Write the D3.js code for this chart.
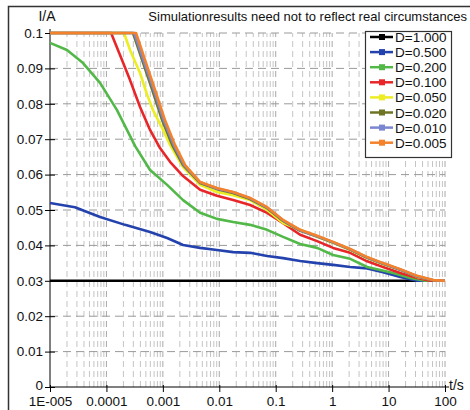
<!DOCTYPE html>
<html>
<head>
<meta charset="utf-8">
<script src="https://cdn.jsdelivr.net/npm/d3@7"></script>
<style>
  body { margin: 0; background: #fff; }
  svg { display: block; font-family: Arial, "Liberation Sans", sans-serif; }
</style>
</head>
<body>
<svg id="chart" width="470" height="410"></svg>
<script>
// time axis (log) and current axis
const xTickValues = [1e-5, 1e-4, 1e-3, 1e-2, 0.1, 1, 10, 100];
const xTickLabels = ["1E-005", "0.0001", "0.001", "0.01", "0.1", "1", "10", "100"];
const yTickValues = [0, 0.01, 0.02, 0.03, 0.04, 0.05, 0.06, 0.07, 0.08, 0.09, 0.1];
const yTickLabels = ["0", "0.01", "0.02", "0.03", "0.04", "0.05", "0.06", "0.07", "0.08", "0.09", "0.1"];

const seriesNames = ["D=1.000", "D=0.500", "D=0.200", "D=0.100", "D=0.050", "D=0.020", "D=0.010", "D=0.005"];
const seriesColors = ["#000000", "#2342ad", "#52b848", "#e8262a", "#eded24", "#6e7424", "#7a86cf", "#f4822c"];

// [t in s, I in A]
const d1000 = [[1e-5, 0.030], [100, 0.030]];
const d0500 = [[1e-5, 0.0520], [2.77e-5, 0.0508], [7.7e-5, 0.0480], [2.14e-4, 0.0458], [5.93e-4, 0.0438],
  [1.19e-3, 0.0421], [2.28e-3, 0.0401], [4.57e-3, 0.0393], [9.1e-3, 0.0387], [0.0176, 0.0381],
  [0.0352, 0.0379], [0.0705, 0.0370], [0.135, 0.0364], [0.271, 0.0356], [0.542, 0.0350],
  [1.04, 0.0345], [2.09, 0.0339], [4.18, 0.0335], [8.0, 0.0324], [16.1, 0.0311], [32.2, 0.0300], [100, 0.0300]];
const d0200 = [[1e-5, 0.0972], [2.0e-5, 0.0952], [3.85e-5, 0.0915], [7.7e-5, 0.0859], [1.54e-4, 0.0782],
  [2.14e-4, 0.0737], [3.21e-4, 0.0681], [5.93e-4, 0.0613], [1.19e-3, 0.0571], [2.28e-3, 0.0528],
  [4.57e-3, 0.0492], [9.1e-3, 0.0475], [0.0176, 0.0466], [0.0352, 0.0458], [0.0705, 0.0444],
  [0.135, 0.0424], [0.271, 0.0404], [0.542, 0.0393], [1.04, 0.0373], [2.09, 0.0362], [4.18, 0.0339],
  [12.1, 0.0322], [24.2, 0.0308], [44.6, 0.0300], [100, 0.0300]];
const d0100 = [[1e-5, 0.1], [1.21e-4, 0.1], [1.74e-4, 0.0938], [2.62e-4, 0.0867], [3.94e-4, 0.0791],
  [5.93e-4, 0.0726], [8.9e-4, 0.0675], [1.34e-3, 0.0636], [2.28e-3, 0.0596], [4.57e-3, 0.0557],
  [9.1e-3, 0.0540], [0.0176, 0.0528], [0.0352, 0.0514], [0.0705, 0.0492], [0.135, 0.0463],
  [0.271, 0.0430], [0.542, 0.0412], [1.04, 0.0393], [2.09, 0.0379], [4.18, 0.0355], [8.0, 0.0339],
  [16.1, 0.0322], [32.2, 0.0308], [54.7, 0.0300], [100, 0.0300]];
const d0050 = [[1e-5, 0.1], [2.05e-4, 0.1], [2.62e-4, 0.0952], [3.94e-4, 0.0887], [5.25e-4, 0.0826],
  [6.70e-4, 0.0782], [1.01e-3, 0.0726], [1.34e-3, 0.0684], [2.28e-3, 0.0621], [4.57e-3, 0.0571],
  [9.1e-3, 0.0551], [0.0176, 0.0542], [0.0352, 0.0528], [0.0705, 0.0500], [0.135, 0.0463],
  [0.271, 0.0444], [0.542, 0.0424], [1.04, 0.0407], [2.09, 0.0387], [4.18, 0.0364], [8.0, 0.0347],
  [16.1, 0.0331], [32.2, 0.0311], [61.8, 0.0302], [100, 0.0300]];
const d0020 = [[1e-5, 0.1], [2.96e-4, 0.1], [4.28e-4, 0.0924], [6.5e-4, 0.0839], [9.7e-4, 0.0754],
  [1.46e-3, 0.0684], [2.28e-3, 0.0627], [4.57e-3, 0.0576], [9.1e-3, 0.0559], [0.0176, 0.0548],
  [0.0352, 0.0531], [0.0705, 0.0505], [0.135, 0.0469], [0.271, 0.0441], [0.542, 0.0425],
  [1.04, 0.0408], [2.09, 0.0388], [4.18, 0.0365], [8.0, 0.0348], [16.1, 0.0331], [32.2, 0.0312],
  [61.8, 0.0301], [100, 0.0300]];
const d0010 = [[1e-5, 0.1], [3.1e-4, 0.1], [4.5e-4, 0.0924], [6.9e-4, 0.0839], [1.03e-3, 0.0754],
  [1.55e-3, 0.0684], [2.38e-3, 0.0627], [4.57e-3, 0.0578], [9.1e-3, 0.0561], [0.0176, 0.0550],
  [0.0352, 0.0533], [0.0705, 0.0507], [0.135, 0.0471], [0.271, 0.0443], [0.542, 0.0426],
  [1.04, 0.0409], [2.09, 0.0389], [4.18, 0.0366], [8.0, 0.0349], [16.1, 0.0332], [32.2, 0.0313],
  [61.8, 0.0302], [100, 0.0300]];
const d0005 = [[1e-5, 0.1], [3.35e-4, 0.1], [4.83e-4, 0.0924], [7.27e-4, 0.0839], [1.09e-3, 0.0754],
  [1.64e-3, 0.0684], [2.48e-3, 0.0627], [4.57e-3, 0.0579], [9.1e-3, 0.0562], [0.0176, 0.0551],
  [0.0352, 0.0534], [0.0705, 0.0508], [0.135, 0.0472], [0.271, 0.0444], [0.542, 0.0427],
  [1.04, 0.0410], [2.09, 0.0390], [4.18, 0.0367], [8.0, 0.0350], [16.1, 0.0333], [32.2, 0.0314],
  [61.8, 0.0302], [100, 0.0300]];
const seriesData = [d1000, d0500, d0200, d0100, d0050, d0020, d0010, d0005];

const svg = d3.select("#chart");
const margin = { left: 50, right: 25, top: 33, bottom: 23 };
const width = 470, height = 410;

const x = d3.scaleLog().domain([1e-5, 100]).range([margin.left, width - margin.right]);
const y = d3.scaleLinear().domain([0, 0.1]).range([height - margin.bottom, margin.top]);

// outer frame (left + top)
svg.append("path")
  .attr("d", "M8.5,410 V6.5 H470")
  .attr("fill", "none").attr("stroke", "#333").attr("stroke-width", 1.5);

// grid
const minorTicks = [];
for (let e = -5; e < 2; e++) for (let m = 1; m < 10; m++) minorTicks.push(m * Math.pow(10, e));
minorTicks.push(100);

const grid = svg.append("g");
grid.selectAll(".vg").data(minorTicks.filter(t => t > 1e-5)).enter().append("line")
  .attr("x1", d => x(d)).attr("x2", d => x(d))
  .attr("y1", y(0)).attr("y2", y(0.1))
  .attr("stroke", d => xTickValues.some(v => Math.abs(v / d - 1) < 1e-6) ? "#a8a8a8" : "#c4c4c4")
  .attr("stroke-width", 1)
  .attr("stroke-dasharray", "6,4");
grid.selectAll(".hg").data(yTickValues.filter(v => v > 0)).enter().append("line")
  .attr("x1", x(1e-5)).attr("x2", x(100))
  .attr("y1", d => y(d)).attr("y2", d => y(d))
  .attr("stroke", "#9a9a9a").attr("stroke-width", 1)
  .attr("stroke-dasharray", "8,5");

// axes
const yAxis = svg.append("g")
  .attr("transform", `translate(${margin.left},0)`)
  .call(d3.axisLeft(y).tickValues(yTickValues).tickFormat((d, i) => yTickLabels[i]).tickSize(4).tickPadding(3));
yAxis.select(".domain").attr("stroke", "#000").attr("d", `M0,${y(0)}V${y(0.1) - 4}`);
yAxis.selectAll(".tick line").attr("x2", -5).attr("x1", 5);
yAxis.selectAll("text").attr("font-size", 13.5).attr("font-family", "Arial, 'Liberation Sans', sans-serif").attr("fill", "#111");
yAxis.selectAll(".tick").filter(d => d === 0).select("text").attr("y", -2);

const xAxis = svg.append("g")
  .attr("transform", `translate(0,${y(0)})`)
  .call(d3.axisBottom(x).tickValues(xTickValues).tickFormat((d, i) => xTickLabels[i]).tickSize(5).tickPadding(4));
xAxis.select(".domain").attr("stroke", "#000").attr("d", `M${x(1e-5)},0H${x(100) + 4}`);
xAxis.selectAll(".tick line").attr("y1", -2);
xAxis.selectAll("text").attr("font-size", 13.5).attr("font-family", "Arial, 'Liberation Sans', sans-serif").attr("fill", "#111");

svg.append("text").attr("x", 47).attr("y", 21).attr("text-anchor", "middle")
  .attr("font-size", 14).attr("fill", "#111").text("I/A");
svg.append("text").attr("x", 449).attr("y", 390)
  .attr("font-size", 14).attr("fill", "#111").text("t/s");
svg.append("text").attr("x", 467).attr("y", 21).attr("text-anchor", "end")
  .attr("font-size", 13).attr("fill", "#111").text("Simulationresults need not to reflect real circumstances");

// curves
const line = d3.line().x(d => x(d[0])).y(d => y(d[1]));
svg.append("g").selectAll("path").data(seriesData).enter().append("path")
  .attr("d", line)
  .attr("fill", "none")
  .attr("stroke", (d, i) => seriesColors[i])
  .attr("stroke-width", 2.6)
  .attr("stroke-linejoin", "round");

// legend
const legend = svg.append("g").attr("transform", "translate(365,31)");
legend.append("rect").attr("x", 0.5).attr("y", 0.5).attr("width", 86).attr("height", 126)
  .attr("fill", "#fff").attr("stroke", "#333").attr("stroke-width", 1.2);
const rows = legend.selectAll(".row").data(seriesNames).enter().append("g")
  .attr("transform", (d, i) => `translate(0,${6 + i * 15.1})`);
rows.append("line").attr("x1", 5).attr("x2", 28).attr("y1", 0).attr("y2", 0)
  .attr("stroke", (d, i) => seriesColors[i]).attr("stroke-width", 2.5);
rows.append("rect").attr("x", 14).attr("y", -3).attr("width", 6).attr("height", 6)
  .attr("fill", (d, i) => seriesColors[i]);
rows.append("text").attr("x", 30).attr("y", 5).attr("font-size", 13.5).attr("fill", "#111")
  .text(d => d);
</script>
</body>
</html>
